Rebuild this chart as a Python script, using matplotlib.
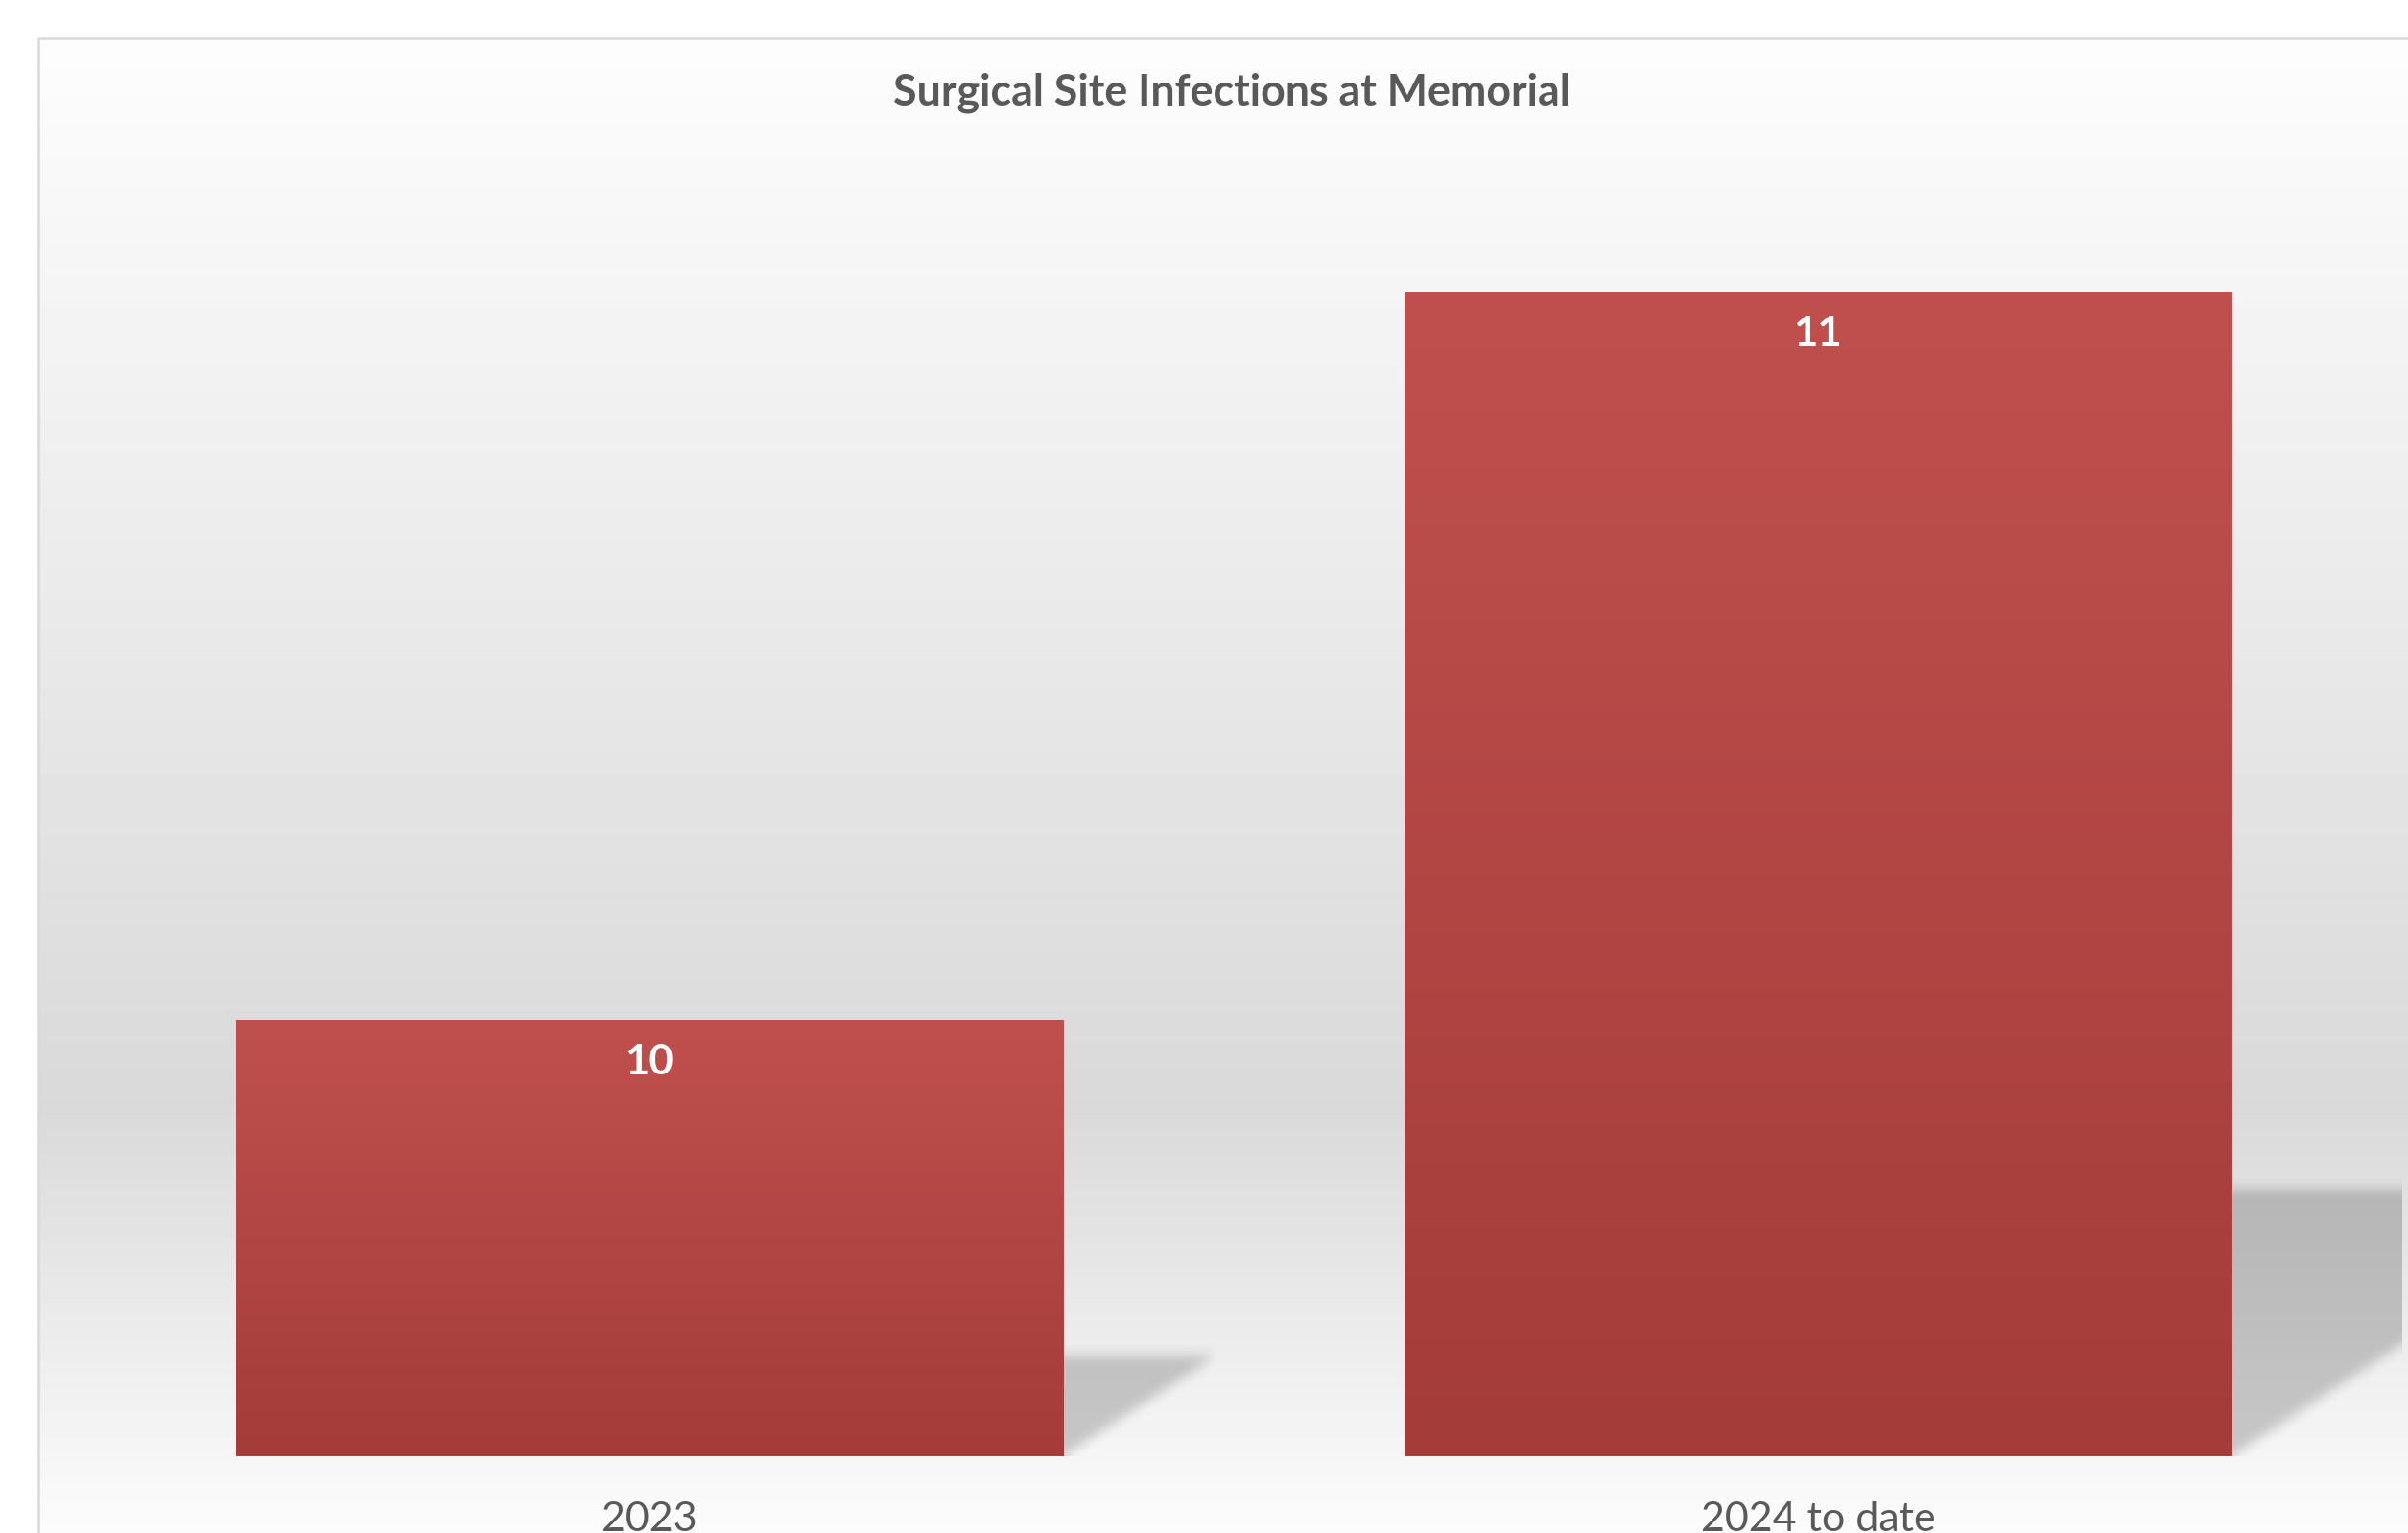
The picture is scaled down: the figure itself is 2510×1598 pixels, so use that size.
import numpy as np
import matplotlib
matplotlib.use('Agg')
import matplotlib.pyplot as plt
from matplotlib.colors import LinearSegmentedColormap

# data
categories = ['2023', '2024 to date']
infections = [10, 11]
chart_title = 'Surgical Site Infections at Memorial'
y_min, y_max = 9.4, 11.2

W, H = 2510, 1598
DPI = 100
FONT = 'Lato'
GREY_TXT = '#595959'

fig = plt.figure(figsize=(W / DPI, H / DPI), dpi=DPI)
fig.patch.set_facecolor('white')

# chart area: vertical grey gradient + thin border (pixel coords)
bg = fig.add_axes([0, 0, 1, 1])
ys = np.arange(40, H)
grey = np.interp(ys, [40, 1150, 1600], [253, 217, 252]) / 255
bg.imshow(grey[:, None], cmap='gray', vmin=0, vmax=1, extent=(40, W, H, 40),
          aspect='auto', interpolation='nearest')
bg.plot([40, 40, W], [H, 40, 40], color='#d9d9d9', lw=1.8)
bg.set_xlim(0, W)
bg.set_ylim(H, 0)
bg.axis('off')

# plot area
L, R, T, B = 68, 2504, 152, 1518
ax = fig.add_axes([L / W, (H - B) / H, (R - L) / W, (B - T) / H])
ax.set_facecolor('none')
x = np.arange(len(categories))
bars = ax.bar(x, np.array(infections) - y_min, bottom=y_min, width=0.708,
              color='none', zorder=3)

bar_cmap = LinearSegmentedColormap.from_list('bar', ['#a43c3a', '#c0504d'])
for b in bars:
    x0, y0 = b.get_x(), b.get_y()
    im = ax.imshow(np.linspace(0, 1, 256)[:, None], cmap=bar_cmap,
                   extent=(x0, x0 + b.get_width(), y0, y0 + b.get_height()),
                   origin='lower', aspect='auto', zorder=3)
    im.set_clip_path(b)

ax.set_xlim(-0.5, len(categories) - 0.5)
ax.set_ylim(y_min, y_max)


# perspective shadow behind each bar, blurred
def box_blur(a, r, axis):
    pad = [(0, 0), (0, 0)]
    pad[axis] = (r, r)
    c = np.cumsum(np.pad(a, pad, mode='edge'), axis=axis)
    c = np.insert(c, 0, 0, axis=axis)
    n = 2 * r + 1
    if axis == 0:
        return (c[n:] - c[:-n]) / n
    return (c[:, n:] - c[:, :-n]) / n


npx_w, npx_h = R - L, B - T
sx = npx_w / (len(categories))
sy = npx_h / (y_max - y_min)
PX, PY = np.meshgrid(np.arange(npx_w) + 0.5, np.arange(npx_h) + 0.5)
mask = np.zeros((npx_h, npx_w))
for b in bars:
    x0p = (b.get_x() + 0.5) * sx
    x1p = x0p + b.get_width() * sx
    sh = 0.23 * b.get_height() * sy
    sk = 1.52 * sh
    shift = PY * sk / sh
    mask[(PY <= sh) & (PX >= x0p + shift) & (PX <= x1p + shift)] = 1
for _ in range(2):
    mask = box_blur(mask, 7, 0)
    mask = box_blur(mask, 4, 1)
shadow = np.zeros((npx_h, npx_w, 4))
shadow[..., 3] = 0.19 * mask
ax.imshow(shadow, extent=(-0.5, len(categories) - 0.5, y_min, y_max),
          origin='lower', aspect='auto', zorder=2, interpolation='nearest')

# data labels
for xi, v in zip(x, infections):
    ax.annotate(str(v), (xi, v), xytext=(0, -44 * 72 / DPI), textcoords='offset points',
                ha='center', va='center', color='white', fontsize=31.5,
                fontweight='bold', family=FONT, zorder=5)

ax.set_xticks(x, categories)
ax.tick_params(axis='x', length=0, pad=47 * 72 / DPI, labelsize=31, labelcolor=GREY_TXT)
for lab in ax.get_xticklabels():
    lab.set_family(FONT)
ax.set_yticks([])
for s in ax.spines.values():
    s.set_visible(False)

fig.text(1284 / W, (H - 109) / H, chart_title, ha='center', va='baseline',
         fontsize=32.2, fontweight='bold', color=GREY_TXT, family=FONT)

fig.savefig('out.png', dpi=DPI)
